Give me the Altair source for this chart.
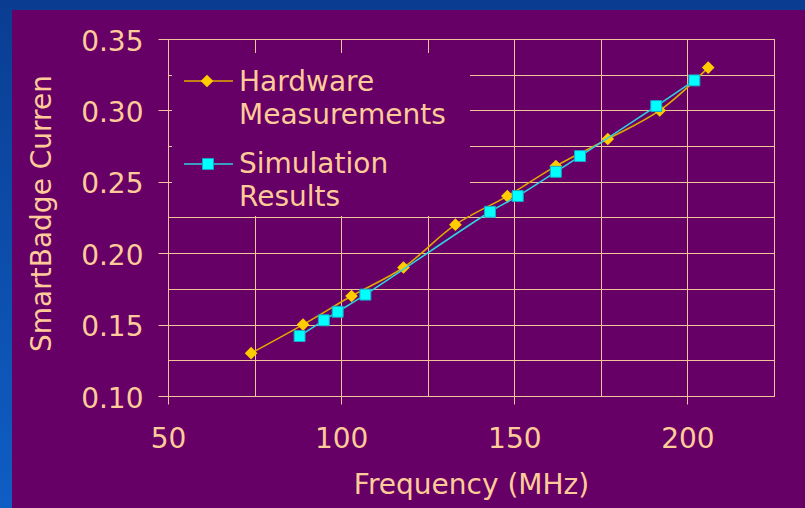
import altair as alt
import pandas as pd

# ---- data ----
hw_freq = [74, 89, 103, 118, 133, 148, 162, 177, 192, 206]
hw_curr = [0.130, 0.150, 0.170, 0.190, 0.220, 0.240, 0.261, 0.280, 0.300, 0.330]
sim_freq = [88, 95, 99, 107, 143, 151, 162, 169, 191, 202]
sim_curr = [0.142, 0.153, 0.159, 0.171, 0.229, 0.240, 0.257, 0.268, 0.303, 0.321]

x_ticks = [50, 75, 100, 125, 150, 175, 200, 225]
y_ticks = [0.10, 0.125, 0.15, 0.175, 0.20, 0.225, 0.25, 0.275, 0.30, 0.325, 0.35]

legend_hw = ["Hardware", "Measurements"]
legend_sim = ["Simulation", "Results"]

hw = pd.DataFrame({"freq": hw_freq, "current": hw_curr})
sim = pd.DataFrame({"freq": sim_freq, "current": sim_curr})

TEXT = "#FFCC99"
GRID = "#F2C49A"
FONT = "DejaVu Sans"
PURPLE = "#660066"
HW_LINE = "#E0A800"
HW_MARK = "#FFCC00"
SIM_LINE = "#2ED3E0"
SIM_MARK = "#00FFFF"

x_axis = alt.Axis(
    values=x_ticks, grid=True, gridColor=GRID, gridWidth=1,
    domainColor=GRID, tickColor=GRID, tickSize=8,
    tickOpacity={"condition": {"test": "datum.value % 50 != 0", "value": 0}, "value": 1},
    labelExpr="datum.value % 50 == 0 ? datum.label : ''",
    labelFont=FONT, labelFontSize=28, labelColor=TEXT, labelPadding=21,
    labelFlush=False, labelOverlap=False,
    title="Frequency (MHz)", titleFont=FONT, titleFontSize=28, titleColor=TEXT,
    titleFontWeight="normal", titleY=97, titleBaseline="alphabetic",
)
y_axis = alt.Axis(
    values=y_ticks, grid=True, gridColor=GRID, gridWidth=1, format=".2f",
    domainColor=GRID, tickColor=GRID, tickSize=10,
    tickOpacity={"condition": {"test": "round(datum.value*1000) % 50 != 0", "value": 0}, "value": 1},
    labelExpr="round(datum.value*1000) % 50 == 0 ? datum.label : ''",
    labelFont=FONT, labelFontSize=28, labelColor=TEXT, labelPadding=15,
    labelBaseline="alphabetic", labelOffset=11, labelFlush=False, labelOverlap=False,
    title="SmartBadge Curren", titleFont=FONT, titleFontSize=28, titleColor=TEXT,
    titleFontWeight="normal", titleX=-118, titleY=174, titleBaseline="alphabetic",
    titleAlign="center",
)

X = alt.X("freq:Q", scale=alt.Scale(domain=[50, 225], nice=False, zero=False), axis=x_axis)
Y = alt.Y("current:Q", scale=alt.Scale(domain=[0.10, 0.35], nice=False, zero=False), axis=y_axis)

one = alt.InlineData(values=[{"k": 1}])

# decorative frame strips (outside the plot area)
top_strip = alt.Chart(one).mark_rect(color="#0A3D92").encode(
    x=alt.value(-168), x2=alt.value(637), y=alt.value(-39), y2=alt.value(-29))
left_strip = alt.Chart(one).mark_rect(
    color=alt.Gradient(gradient="linear", x1=0, x2=0, y1=0, y2=1,
                       stops=[alt.GradientStop(color="#0A3D92", offset=0),
                              alt.GradientStop(color="#0F5EC4", offset=1)])
).encode(x=alt.value(-168), x2=alt.value(-156), y=alt.value(-39), y2=alt.value(469))

# legend box
leg_box = alt.Chart(one).mark_rect(color=PURPLE).encode(
    x=alt.value(4), x2=alt.value(302), y=alt.value(14), y2=alt.value(177))
leg_hw_line = alt.Chart(one).mark_rule(color=HW_LINE, strokeWidth=1.6).encode(
    x=alt.value(16), x2=alt.value(65), y=alt.value(42))
leg_hw_pt = alt.Chart(one).mark_point(shape="diamond", filled=True, size=160,
                                      color=HW_MARK, opacity=1).encode(
    x=alt.value(39), y=alt.value(42))
leg_sim_line = alt.Chart(one).mark_rule(color=SIM_LINE, strokeWidth=1.6).encode(
    x=alt.value(16), x2=alt.value(65), y=alt.value(125))
leg_sim_pt = alt.Chart(one).mark_point(shape="square", filled=True, size=120,
                                       fill=SIM_MARK, stroke="#1AA7C8", strokeWidth=1,
                                       opacity=1).encode(
    x=alt.value(40), y=alt.value(125))


def leg_text(txt, ypos):
    return alt.Chart(one).mark_text(font=FONT, fontSize=28, color=TEXT, align="left",
                                    baseline="alphabetic").encode(
        x=alt.value(71), y=alt.value(ypos), text=alt.value(txt))


leg_texts = [leg_text(legend_hw[0], 52), leg_text(legend_hw[1], 85),
             leg_text(legend_sim[0], 134), leg_text(legend_sim[1], 167)]

hw_line = alt.Chart(hw).mark_line(color=HW_LINE, strokeWidth=1.6,
                                  interpolate="catmull-rom").encode(x=X, y=Y)
hw_pts = alt.Chart(hw).mark_point(shape="diamond", filled=True, size=160,
                                  color=HW_MARK, opacity=1).encode(x=X, y=Y)
sim_line = alt.Chart(sim).mark_line(color=SIM_LINE, strokeWidth=1.6,
                                    interpolate="catmull-rom").encode(x=X, y=Y)
sim_pts = alt.Chart(sim).mark_point(shape="square", filled=True, size=120,
                                    fill=SIM_MARK, stroke="#1AA7C8", strokeWidth=1,
                                    opacity=1).encode(x=X, y=Y)

chart = alt.layer(
    hw_line, top_strip, left_strip, leg_box, leg_hw_line, leg_hw_pt, leg_sim_line, leg_sim_pt,
    *leg_texts, hw_pts, sim_line, sim_pts
).properties(
    width=606, height=357,
    autosize=alt.AutoSizeParams(type="none"),
    padding={"left": 168, "top": 39, "right": 31, "bottom": 112},
    background=PURPLE,
).configure_view(stroke=GRID, strokeWidth=1)

chart.save("out.html", embed_options={"renderer": "svg", "actions": False})
